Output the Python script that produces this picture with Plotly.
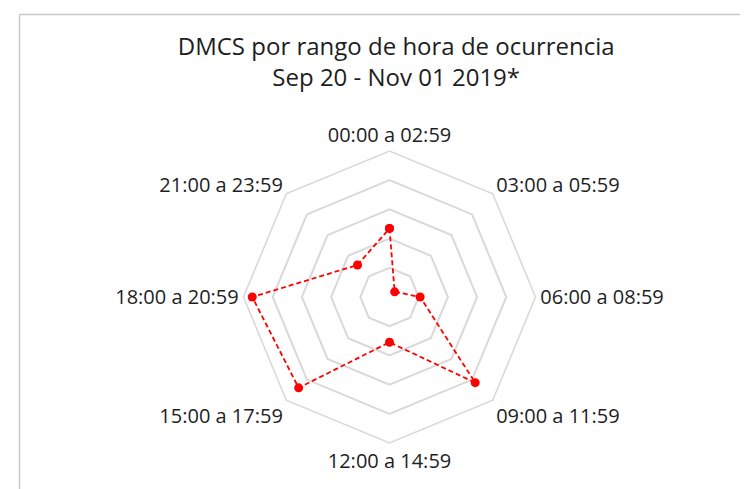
import plotly.graph_objects as go

categories = ["00:00 a 02:59", "03:00 a 05:59", "06:00 a 08:59", "09:00 a 11:59",
              "12:00 a 14:59", "15:00 a 17:59", "18:00 a 20:59", "21:00 a 23:59"]
values = [47, 5, 21, 83, 31, 88, 94, 31]
title_line1 = "DMCS por rango de hora de ocurrencia"
title_line2 = "Sep 20 - Nov 01 2019*"

W, H = 748, 489
cx, cy, R = 381.5, 289.0, 146

fig = go.Figure()
fig.add_trace(go.Scatterpolar(
    r=values + values[:1],
    theta=categories + categories[:1],
    mode="lines+markers",
    line=dict(color="#FF0000", width=1.8, dash="5px,3px"),
    marker=dict(color="#FF0000", size=9),
    showlegend=False,
    hoverinfo="skip",
))

fig.update_layout(
    width=W, height=H,
    margin=dict(l=0, r=0, t=0, b=0),
    paper_bgcolor="white",
    plot_bgcolor="white",
    font=dict(family="Open Sans, Noto Sans, sans-serif", color="#1e1e1e"),
    title=dict(
        text=title_line1 + "<br>" + title_line2,
        x=0.519, xanchor="center",
        yref="container", y=1 - 46.5 / H, yanchor="middle",
        font=dict(size=24, color="#1e1e1e"),
    ),
    polar=dict(
        domain=dict(x=[(cx - R) / W, (cx + R) / W],
                    y=[(H - cy - R) / H, (H - cy + R) / H]),
        bgcolor="white",
        gridshape="linear",
        radialaxis=dict(range=[0, 100], dtick=20, showticklabels=False, ticks="",
                        showline=False, gridcolor="#D9D9D9", gridwidth=1.6),
        angularaxis=dict(direction="clockwise", rotation=90, showgrid=False,
                         showline=True, linecolor="#D9D9D9", linewidth=1.6, ticks="",
                         tickfont=dict(size=20, color="#1e1e1e")),
    ),
    shapes=[
        dict(type="line", xref="paper", yref="paper", x0=11.5 / W, x1=1.0,
             y0=1 - 6.5 / H, y1=1 - 6.5 / H, line=dict(color="#C8C8C8", width=1.5)),
        dict(type="line", xref="paper", yref="paper", x0=11.5 / W, x1=11.5 / W,
             y0=0, y1=1 - 6.5 / H, line=dict(color="#C8C8C8", width=1.5)),
    ],
)

fig.write_html("out.html")
